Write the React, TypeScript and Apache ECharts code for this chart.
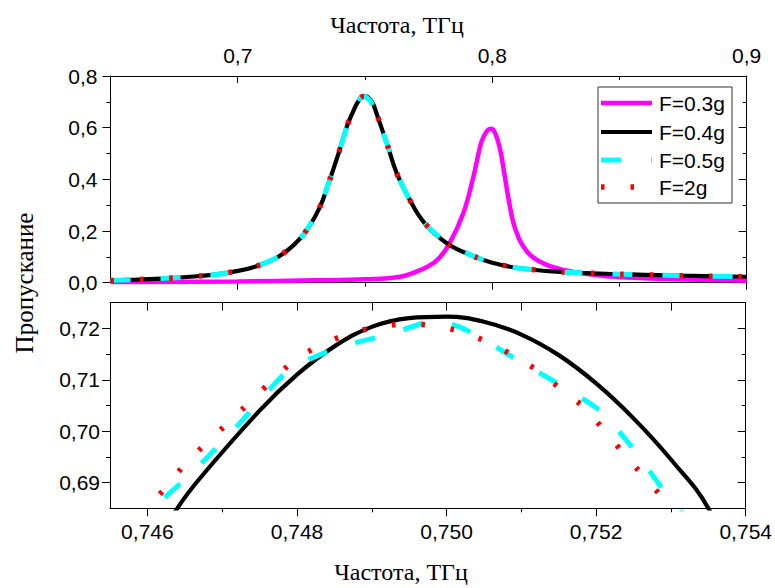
import React, { useEffect, useRef } from "react";
import * as echarts from "echarts";

// ---------- data ----------
// top panel x axis (frequency, THz)
const TOP_X_MAJOR = [0.7, 0.8, 0.9];
const TOP_X_MINOR = [0.75, 0.85];
const TOP_Y_MAJOR = [0, 0.2, 0.4, 0.6, 0.8];
const TOP_Y_MINOR = [0.1, 0.3, 0.5, 0.7];
// bottom (zoomed) panel
const BOT_X_MAJOR = [0.746, 0.748, 0.75, 0.752, 0.754];
const BOT_X_MINOR = [0.747, 0.749, 0.751, 0.753];
const BOT_X_TOP = [0.746, 0.747, 0.748, 0.749, 0.75, 0.751, 0.752, 0.753];
const BOT_Y_MAJOR = [0.69, 0.7, 0.71, 0.72];
const BOT_Y_MINOR = [0.695, 0.705, 0.715];

// F = 0.3g (magenta)
const F03 = [
  [0.65, 0.003], [0.7, 0.005], [0.73, 0.009], [0.75, 0.013], [0.7638, 0.023],
  [0.7729, 0.054], [0.7782, 0.086], [0.783, 0.148], [0.7886, 0.268], [0.7926, 0.41],
  [0.7958, 0.546], [0.798, 0.588], [0.7995, 0.596], [0.801, 0.582], [0.803, 0.52],
  [0.8048, 0.42], [0.8065, 0.32], [0.809, 0.21], [0.8137, 0.12], [0.82, 0.075],
  [0.8286, 0.048], [0.84, 0.031], [0.85, 0.022], [0.875, 0.012], [0.9, 0.008],
];

// wings shared by F = 0.4g, 0.5g and 2g (the curves coincide there)
const WING_LEFT = [
  [0.65, 0.0085], [0.66, 0.012], [0.672, 0.017], [0.68, 0.022], [0.69, 0.03],
  [0.698, 0.042], [0.7068, 0.062], [0.7166, 0.104], [0.7255, 0.182], [0.7319, 0.285],
  [0.736, 0.394], [0.7397, 0.503], [0.7432, 0.613],
];
const WING_RIGHT = [
  [0.755, 0.642], [0.7588, 0.533], [0.7625, 0.423], [0.7674, 0.324], [0.7735, 0.23],
  [0.7826, 0.15], [0.7933, 0.1], [0.8, 0.077], [0.81, 0.057], [0.825, 0.043],
  [0.85, 0.033], [0.875, 0.027], [0.9, 0.023],
];

// peak regions
const PEAK_F04 = [
  [0.7464, 0.685], [0.7467, 0.6908], [0.7475, 0.704], [0.748, 0.711], [0.7485, 0.7165],
  [0.749, 0.7203], [0.7495, 0.722], [0.75, 0.7223], [0.7505, 0.7213], [0.751, 0.7188],
  [0.7515, 0.7148], [0.752, 0.7093], [0.7525, 0.7025], [0.753, 0.6945], [0.7535, 0.685],
];
const PEAK_F05 = [
  [0.7461, 0.685], [0.7466, 0.6919], [0.7472, 0.701], [0.7479, 0.712], [0.7486, 0.7165],
  [0.74925, 0.7189], [0.74985, 0.7215], [0.75025, 0.7198], [0.751, 0.7134], [0.7516, 0.7083],
  [0.75205, 0.704], [0.7525, 0.6965], [0.753, 0.6865], [0.7531, 0.685],
];
const PEAK_F2 = [
  [0.746, 0.685], [0.74626, 0.6892], [0.7465, 0.6936], [0.7472, 0.7033], [0.74794, 0.7135],
  [0.74829, 0.7166], [0.74868, 0.7189], [0.74907, 0.7203], [0.74946, 0.7209], [0.74986, 0.7205],
  [0.75023, 0.7192], [0.75059, 0.7171], [0.75093, 0.7144], [0.75126, 0.7114], [0.75155, 0.7079],
  [0.75185, 0.7045], [0.7524, 0.6951], [0.753, 0.685],
];

const LEGEND = ["F=0.3g", "F=0.4g", "F=0.5g", "F=2g"];

// ---------- styles ----------
const SANS = "'Liberation Sans', Arial, sans-serif";
const SERIF = "'Liberation Serif', 'Times New Roman', serif";
const STYLES = [
  { color: "#ff00ff", width: 4.5, type: "solid" as any, smooth: 0.4 },
  { color: "#000000", width: 4.2, type: "solid" as any, smooth: 0.4 },
  { color: "#00ffff", width: 5, type: [20, 30] as any, smooth: 0.2 },
  { color: "#ff0000", width: 5.5, type: [3.5, 26] as any, smooth: 0.2 },
];

const fmt = (d: number) => (v: number) => v.toFixed(d).replace(".", ",");

function axis(o: {
  grid: number; pos: string; min: number; max: number; ticks: number[];
  len: number; inside: boolean; line?: boolean; digits?: number; margin?: number;
}) {
  return {
    type: "value",
    gridIndex: o.grid,
    position: o.pos,
    min: o.min,
    max: o.max,
    axisLine: { show: !!o.line, onZero: false, lineStyle: { color: "#000", width: 1 } },
    axisTick: {
      show: true, inside: o.inside, length: o.len, customValues: o.ticks,
      lineStyle: { color: "#000", width: 1 },
    },
    axisLabel: o.digits !== undefined
      ? {
          show: true, customValues: o.ticks, formatter: fmt(o.digits), fontSize: 21,
          color: "#000", fontFamily: SANS, margin: o.margin ?? 10,
        }
      : { show: false },
    splitLine: { show: false },
  };
}

export default function App() {
  const ref = useRef<HTMLDivElement>(null);
  useEffect(() => {
    if (!ref.current) return;
    const chart = echarts.init(ref.current, null, { renderer: "svg" });
    const f04 = [...WING_LEFT, ...PEAK_F04, ...WING_RIGHT];
    const f05 = [...WING_LEFT, ...PEAK_F05, ...WING_RIGHT];
    const f2 = [...WING_LEFT, ...PEAK_F2, ...WING_RIGHT];
    const datas = [F03, f04, f05, f2];

    const mk = (i: number, xi: number, yi: number) => ({
      type: "line",
      name: LEGEND[i],
      xAxisIndex: xi,
      yAxisIndex: yi,
      data: datas[i],
      symbol: "none",
      showSymbol: false,
      smooth: STYLES[i].smooth,
      clip: true,
      silent: true,
      lineStyle: { color: STYLES[i].color, width: STYLES[i].width, type: STYLES[i].type, cap: "butt" },
      itemStyle: { color: STYLES[i].color },
      z: 2 + i,
    });

    const legendRows = [103, 132, 160, 187];
    const legendGraphics: any[] = [
      {
        type: "rect", shape: { x: 598, y: 87, width: 134, height: 116 },
        style: { fill: "#fff", stroke: "#333", lineWidth: 1 }, z: 10,
      },
    ];
    LEGEND.forEach((name, i) => {
      legendGraphics.push({
        type: "line",
        shape: { x1: 601, y1: legendRows[i], x2: 652, y2: legendRows[i] },
        style: {
          stroke: STYLES[i].color, lineWidth: STYLES[i].width,
          lineDash: Array.isArray(STYLES[i].type) ? STYLES[i].type : null, lineCap: "butt",
        },
        z: 11,
      });
      legendGraphics.push({
        type: "text", x: 659, y: legendRows[i],
        style: { text: name, fontSize: 21, fontFamily: SANS, fill: "#000", align: "left", verticalAlign: "middle" },
        z: 11,
      });
    });

    chart.setOption({
      animation: false,
      backgroundColor: "#fff",
      grid: [
        { left: 110.5, top: 76, width: 636.2, height: 206.7, containLabel: false },
        { left: 110, top: 302.7, width: 636, height: 205.6, containLabel: false },
      ],
      xAxis: [
        axis({ grid: 0, pos: "top", min: 0.65, max: 0.9, ticks: TOP_X_MAJOR, len: 7, inside: true, line: true, digits: 1, margin: 10 }),
        axis({ grid: 0, pos: "top", min: 0.65, max: 0.9, ticks: TOP_X_MINOR, len: 4, inside: true }),
        axis({ grid: 0, pos: "bottom", min: 0.65, max: 0.9, ticks: TOP_X_MAJOR, len: 7, inside: false, line: true }),
        axis({ grid: 0, pos: "bottom", min: 0.65, max: 0.9, ticks: TOP_X_MINOR, len: 4, inside: false }),
        axis({ grid: 1, pos: "bottom", min: 0.7455, max: 0.754, ticks: BOT_X_MAJOR, len: 8, inside: false, line: true, digits: 3, margin: 13 }),
        axis({ grid: 1, pos: "bottom", min: 0.7455, max: 0.754, ticks: BOT_X_MINOR, len: 4, inside: false }),
        axis({ grid: 1, pos: "top", min: 0.7455, max: 0.754, ticks: BOT_X_TOP, len: 8, inside: true, line: true }),
      ],
      yAxis: [
        axis({ grid: 0, pos: "left", min: 0, max: 0.8, ticks: TOP_Y_MAJOR, len: 8, inside: false, line: true, digits: 1, margin: 13 }),
        axis({ grid: 0, pos: "left", min: 0, max: 0.8, ticks: TOP_Y_MINOR, len: 4, inside: false }),
        axis({ grid: 0, pos: "right", min: 0, max: 0.8, ticks: TOP_Y_MAJOR, len: 8, inside: true, line: true }),
        axis({ grid: 0, pos: "right", min: 0, max: 0.8, ticks: TOP_Y_MINOR, len: 4, inside: true }),
        axis({ grid: 1, pos: "left", min: 0.685, max: 0.725, ticks: BOT_Y_MAJOR, len: 8, inside: false, line: true, digits: 2, margin: 10 }),
        axis({ grid: 1, pos: "left", min: 0.685, max: 0.725, ticks: BOT_Y_MINOR, len: 4, inside: false }),
        axis({ grid: 1, pos: "right", min: 0.685, max: 0.725, ticks: BOT_Y_MAJOR, len: 8, inside: true, line: true }),
        axis({ grid: 1, pos: "right", min: 0.685, max: 0.725, ticks: BOT_Y_MINOR, len: 4, inside: true }),
      ],
      series: [
        mk(0, 0, 0), mk(1, 0, 0), mk(2, 0, 0), mk(3, 0, 0),
        mk(1, 4, 4), mk(2, 4, 4), mk(3, 4, 4),
      ],
      graphic: [
        {
          type: "text", x: 397, y: 25,
          style: { text: "Частота, ТГц", fontSize: 24, fontFamily: SERIF, fill: "#000", align: "center", verticalAlign: "middle" },
        },
        {
          type: "text", x: 401, y: 572,
          style: { text: "Частота, ТГц", fontSize: 24, fontFamily: SERIF, fill: "#000", align: "center", verticalAlign: "middle" },
        },
        {
          type: "text", x: 24, y: 283, rotation: Math.PI / 2,
          style: { text: "Пропускание", fontSize: 25, fontFamily: SERIF, fill: "#000", align: "center", verticalAlign: "middle" },
        },
        ...legendGraphics,
      ],
    });
    return () => chart.dispose();
  }, []);
  return (
    <div
      ref={ref}
      style={{ position: "fixed", left: 0, top: 0, width: 775, height: 588, background: "#fff" }}
    />
  );
}
